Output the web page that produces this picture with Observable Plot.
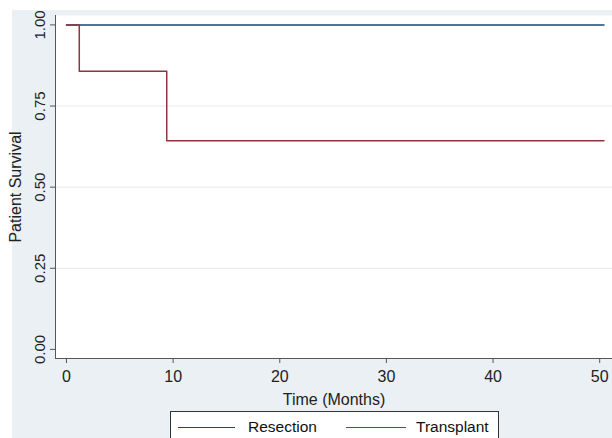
<!DOCTYPE html>
<html>
<head>
<meta charset="utf-8">
<script src="https://cdn.jsdelivr.net/npm/d3@7"></script>
<script src="https://cdn.jsdelivr.net/npm/@observablehq/plot@0.6"></script>
<style>
  html, body { margin: 0; padding: 0; background: #ffffff; }
  #wrap { position: relative; width: 612px; height: 438px; overflow: hidden; font-family: "Liberation Sans", Arial, sans-serif; }
  #bg { position: absolute; left: 12px; top: 10px; width: 600px; height: 440px; background: #eaf0f3; }
  #chart { position: absolute; left: 0; top: 0; }
  #legend { position: absolute; left: 170px; top: 411px; width: 329px; height: 34px; background: #ffffff; border: 1px solid #333; box-sizing: border-box; font-size: 15.5px; color: #111; }
  .item { position: absolute; top: 6px; display: flex; align-items: center; }
  .swatch { display: inline-block; height: 0; border-top: 1.5px solid; }
</style>
</head>
<body>
<div id="wrap">
  <div id="bg"></div>
  <div id="chart"></div>
  <div id="legend"></div>
</div>
<script>
// Data
const seriesNames = ["Resection", "Transplant"];
const seriesColors = ["#1a476f", "#90353b"];
const resectionTime = [0, 50.4];
const resectionSurv = [1, 1];
const transplantTime = [0, 1.2, 9.4, 50.4];
const transplantSurv = [1, 0.857, 0.643, 0.643];
const xTicks = [0, 10, 20, 30, 40, 50];
const yTicks = [0, 0.25, 0.5, 0.75, 1];
const yGrid = [0.25, 0.5, 0.75];

const resection = resectionTime.map((t, i) => ({t, s: resectionSurv[i], g: seriesNames[0]}));
const transplant = transplantTime.map((t, i) => ({t, s: transplantSurv[i], g: seriesNames[1]}));

const plot = Plot.plot({
  width: 612,
  height: 410,
  marginLeft: 55,
  marginRight: 0,
  marginTop: 15,
  marginBottom: 52,
  style: { background: "transparent", fontFamily: "Liberation Sans, Arial, sans-serif", fontSize: "16px", color: "#222" },
  x: { domain: [-1.03, 51.2] },
  y: { domain: [-0.028, 1.029] },
  marks: [
    Plot.frame({ fill: "white", stroke: null }),
    Plot.ruleY(yGrid, { stroke: "#e4e9ec", strokeWidth: 1 }),
    Plot.frame({ anchor: "left", stroke: "#555" }),
    Plot.frame({ anchor: "bottom", stroke: "#555" }),
    Plot.axisX({ ticks: xTicks, tickSize: 5, tickPadding: 7, stroke: "#555", fill: "#222", fontSize: 16,
      label: null }),
    Plot.axisX({ ticks: [], label: "Time (Months)", labelAnchor: "center", labelArrow: "none", labelOffset: 46, fontSize: 16, fill: "#222" }),
    Plot.axisY({ ticks: yTicks, tickFormat: d3.format(".2f"), tickSize: 5, tickPadding: 6, tickRotate: -90, stroke: "#555", fill: "#222", fontSize: 15,
      label: null }),
    Plot.axisY({ ticks: [], label: "Patient Survival", labelAnchor: "center", labelArrow: "none", labelOffset: 46, fontSize: 16, fill: "#222" }),
    Plot.line(resection, { x: "t", y: "s", curve: "step-after", stroke: seriesColors[0], strokeWidth: 1.5 }),
    Plot.line(transplant, { x: "t", y: "s", curve: "step-after", stroke: seriesColors[1], strokeWidth: 1.5 })
  ]
});
document.getElementById("chart").appendChild(plot);

// Legend
const legend = document.getElementById("legend");
const layout = [{left: 7, w: 57, gap: 13}, {left: 175, w: 60, gap: 10}];
seriesNames.forEach((name, i) => {
  const item = document.createElement("div");
  item.className = "item";
  item.style.left = layout[i].left + "px";
  const sw = document.createElement("span");
  sw.className = "swatch";
  sw.style.width = layout[i].w + "px";
  sw.style.borderTopColor = seriesColors[i];
  sw.style.marginRight = layout[i].gap + "px";
  const lab = document.createElement("span");
  lab.textContent = name;
  item.appendChild(sw);
  item.appendChild(lab);
  legend.appendChild(item);
});
</script>
</body>
</html>
